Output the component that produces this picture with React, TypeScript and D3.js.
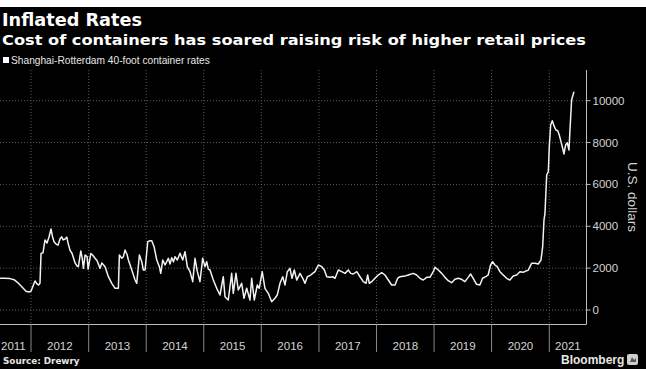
import React from "react";
import * as d3 from "d3";

// ---- data ----
const title = "Inflated Rates";
const subtitle = "Cost of containers has soared raising risk of higher retail prices";
const seriesName = "Shanghai-Rotterdam 40-foot container rates";
const yAxisTitle = "U.S. dollars";
const sourceText = "Source: Drewry";

const yearLabels = [2011, 2012, 2013, 2014, 2015, 2016, 2017, 2018, 2019, 2020, 2021];
const yTickValues = [0, 2000, 4000, 6000, 8000, 10000];

// decimal-year dates of each observation
const obsDates = [
  2011.462, 2011.531, 2011.635, 2011.705, 2011.774, 2011.844, 2011.913, 2011.965,
  2012.0, 2012.035, 2012.069, 2012.104, 2012.13, 2012.156, 2012.174, 2012.208,
  2012.243, 2012.278, 2012.313, 2012.347, 2012.373, 2012.399, 2012.434, 2012.469,
  2012.504, 2012.533, 2012.556, 2012.59, 2012.62, 2012.642, 2012.677, 2012.712,
  2012.764, 2012.799, 2012.821, 2012.863, 2012.886, 2012.908, 2012.938, 2012.972,
  2012.99, 2013.037, 2013.059, 2013.111, 2013.146, 2013.198, 2013.228, 2013.285,
  2013.342, 2013.401, 2013.459, 2013.516, 2013.533, 2013.575, 2013.603, 2013.632,
  2013.667, 2013.69, 2013.749, 2013.806, 2013.835, 2013.881, 2013.922, 2013.95,
  2013.98, 2014.026, 2014.066, 2014.096, 2014.136, 2014.183, 2014.228, 2014.252,
  2014.287, 2014.327, 2014.384, 2014.414, 2014.443, 2014.474, 2014.5, 2014.54,
  2014.587, 2014.634, 2014.674, 2014.714, 2014.761, 2014.808, 2014.848, 2014.888,
  2014.934, 2014.981, 2015.021, 2015.051, 2015.079, 2015.108, 2015.166, 2015.225,
  2015.282, 2015.339, 2015.369, 2015.426, 2015.485, 2015.513, 2015.56, 2015.6,
  2015.659, 2015.699, 2015.746, 2015.803, 2015.833, 2015.878, 2015.93, 2015.964,
  2016.016, 2016.063, 2016.121, 2016.18, 2016.237, 2016.277, 2016.324, 2016.371,
  2016.411, 2016.451, 2016.497, 2016.532, 2016.572, 2016.614, 2016.671, 2016.718,
  2016.758, 2016.798, 2016.845, 2016.891, 2016.931, 2016.989, 2017.048, 2017.093,
  2017.135, 2017.192, 2017.239, 2017.279, 2017.336, 2017.395, 2017.452, 2017.509,
  2017.551, 2017.597, 2017.656, 2017.713, 2017.77, 2017.817, 2017.846, 2017.874,
  2017.916, 2017.973, 2018.031, 2018.09, 2018.147, 2018.204, 2018.263, 2018.321,
  2018.367, 2018.407, 2018.494, 2018.552, 2018.638, 2018.697, 2018.755, 2018.812,
  2018.871, 2018.928, 2018.986, 2019.015, 2019.073, 2019.132, 2019.189, 2019.246,
  2019.305, 2019.362, 2019.42, 2019.479, 2019.536, 2019.593, 2019.635, 2019.68,
  2019.739, 2019.796, 2019.843, 2019.9, 2019.94, 2019.982, 2020.017, 2020.057,
  2020.097, 2020.144, 2020.201, 2020.26, 2020.317, 2020.375, 2020.433, 2020.491,
  2020.548, 2020.607, 2020.635, 2020.665, 2020.694, 2020.752, 2020.809, 2020.856,
  2020.885, 2020.908, 2020.925, 2020.943, 2020.955, 2020.983, 2021.0, 2021.024,
  2021.052, 2021.087, 2021.116, 2021.146, 2021.173, 2021.203, 2021.232, 2021.255,
  2021.284, 2021.312, 2021.342, 2021.359, 2021.388, 2021.428,
];

// rate in U.S. dollars per 40-foot container
const rates = [
  1515, 1520, 1500, 1450, 1300, 1100, 900, 860,
  900, 1150, 1385, 1250, 1195, 1275, 2700, 2730,
  3350, 3200, 3500, 3870, 3500, 3260, 3150, 3100,
  3400, 3500, 3350, 3390, 3480, 3200, 2850, 2700,
  2250, 2100, 2070, 2820, 2500, 1990, 2630, 2550,
  1950, 2700, 2650, 2470, 2350, 1990, 2250, 2070,
  1593, 1275, 1036, 1036, 2628, 2470, 2548, 2867,
  2650, 2389, 1911, 1433, 1275, 2628, 2308, 1911,
  1911, 3264, 3311, 3311, 3025, 2389, 2070, 1752,
  2389, 2150, 2470, 2200, 2500, 2300, 2548, 2389,
  2709, 2389, 2787, 2070, 1831, 1354, 2470, 1831,
  1354, 2470, 2070, 2308, 1950, 1911, 1433, 1036,
  717, 1593, 637, 478, 1752, 796, 1752, 956,
  1275, 559, 1036, 478, 1515, 478, 1195, 1036,
  1831, 1036, 796, 398, 559, 717, 1275, 1593,
  1195, 1831, 1990, 1515, 1910, 1430, 1750, 1515,
  1275, 1593, 1650, 1750, 1830, 2150, 2070, 1910,
  1590, 1562, 1590, 1515, 1910, 1830, 1750, 1910,
  1750, 1720, 1830, 1590, 1354, 1275, 1672, 1275,
  1354, 1515, 1672, 1783, 1672, 1433, 1195, 1195,
  1515, 1593, 1620, 1672, 1750, 1672, 1515, 1433,
  1560, 1560, 1830, 2040, 1910, 1750, 1560, 1401,
  1306, 1465, 1515, 1465, 1354, 1560, 1720, 1515,
  1227, 1195, 1515, 1593, 1672, 2150, 2308, 2150,
  2070, 1830, 1672, 1515, 1433, 1625, 1672, 1831,
  1800, 1879, 1900, 2070, 2230, 2230, 2200, 2389,
  3025, 4300, 4620, 5734, 6450, 6608, 7800, 8840,
  9045, 8758, 8600, 8567, 8362, 8042, 7726, 7454,
  7884, 7994, 7645, 8600, 10034, 10430,
];

const W = 646;
const H = 369;

const toDate = (dy: number) => {
  const yr = Math.floor(dy);
  const s = +new Date(yr, 0, 1);
  const e = +new Date(yr + 1, 0, 1);
  return new Date(s + (dy - yr) * (e - s));
};

export default function App() {
  const plotTop = 70;
  const axisY = 324.5;
  const axisX = 586.5;

  const x = d3
    .scaleTime()
    .domain([new Date(2012, 0, 1), new Date(2021, 0, 1)])
    .range([31, 549.3]);
  const y = d3.scaleLinear().domain([0, 10000]).range([310, 100.7]);

  const data = obsDates.map((d, i) => ({ date: toDate(d), v: rates[i] }));
  const line = d3
    .line<{ date: Date; v: number }>()
    .x((d) => x(d.date))
    .y((d) => y(d.v))
    .curve(d3.curveLinear);

  const tickFont = "'Liberation Sans', Arial, sans-serif";
  const gridColor = "#5c5c5c";
  const labelColor = "#d4d4d4";

  const yearBoundaries = yearLabels.slice(1).map((yr) => new Date(yr, 0, 1));

  return (
    <svg
      width={W}
      height={H}
      style={{ position: "absolute", left: 0, top: 0, display: "block" }}
    >
      <rect x={0} y={0} width={W} height={H} fill="#000" />
      <rect x={0} y={0} width={W} height={7} fill="#fff" />

      {/* titles */}
      <text
        x={2}
        y={26}
        fill="#fff"
        fontFamily="'DejaVu Sans', sans-serif"
        fontWeight="bold"
        fontSize={17.7}
      >
        {title}
      </text>
      <text
        x={2}
        y={45}
        fill="#fff"
        fontFamily="'DejaVu Sans', sans-serif"
        fontWeight="bold"
        fontSize={14.5}
        textLength={584}
        lengthAdjust="spacingAndGlyphs"
      >
        {subtitle}
      </text>

      {/* legend */}
      <rect x={3} y={57} width={6} height={6} fill="#fff" />
      <text x={11} y={63.5} fill="#e6e6e6" fontFamily={tickFont} fontSize={10.2}>
        {seriesName}
      </text>

      {/* horizontal grid */}
      {yTickValues.map((t) => (
        <line
          key={"hg" + t}
          x1={0}
          x2={axisX}
          y1={y(t)}
          y2={y(t)}
          stroke={gridColor}
          strokeWidth={1}
          strokeDasharray="1 2"
        />
      ))}
      {/* vertical grid */}
      {yearBoundaries.map((d) => (
        <line
          key={"vg" + +d}
          x1={x(d)}
          x2={x(d)}
          y1={plotTop}
          y2={axisY}
          stroke={gridColor}
          strokeWidth={1}
          strokeDasharray="1 2"
        />
      ))}

      {/* line */}
      <path
        d={line(data) || ""}
        fill="none"
        stroke="#f2f2f2"
        strokeWidth={1.5}
        strokeLinejoin="round"
      />

      {/* axes */}
      <line x1={0} x2={axisX} y1={axisY} y2={axisY} stroke="#bdbdbd" strokeWidth={1} />
      <line x1={axisX} x2={axisX} y1={plotTop} y2={axisY} stroke="#bdbdbd" strokeWidth={1} />

      {/* x ticks */}
      {yearBoundaries.map((d) => (
        <line
          key={"xt" + +d}
          x1={x(d)}
          x2={x(d)}
          y1={axisY}
          y2={352}
          stroke="#8a8a8a"
          strokeWidth={1}
        />
      ))}
      {yearLabels.map((yr) => {
        const s = x(new Date(yr, 0, 1));
        const e = x(new Date(yr + 1, 0, 1));
        const first = s < 0;
        const lx = first ? 1 : (s + Math.min(e, axisX)) / 2;
        return (
          <text
            key={"xl" + yr}
            x={lx}
            y={350}
            fill={labelColor}
            fontFamily={tickFont}
            fontSize={11.5}
            textAnchor={first ? "start" : "middle"}
          >
            {yr}
          </text>
        );
      })}

      {/* y ticks */}
      {yTickValues.map((t) => (
        <g key={"yt" + t}>
          <line x1={axisX} x2={axisX + 4} y1={y(t)} y2={y(t)} stroke="#bdbdbd" />
          <text
            x={axisX + 6}
            y={y(t)}
            dy="0.35em"
            fill={labelColor}
            fontFamily={tickFont}
            fontSize={11.5}
          >
            {t}
          </text>
        </g>
      ))}

      {/* y axis title */}
      <text
        transform={`translate(${628},${197}) rotate(90)`}
        textAnchor="middle"
        fill={labelColor}
        fontFamily={tickFont}
        fontSize={13.5}
      >
        {yAxisTitle}
      </text>

      {/* footer */}
      <text
        x={3}
        y={364}
        fill="#e6e6e6"
        fontFamily="'DejaVu Sans', sans-serif"
        fontWeight="bold"
        fontSize={8.8}
      >
        {sourceText}
      </text>
      <text
        x={561}
        y={363.5}
        fill="#e6e6e6"
        fontFamily={tickFont}
        fontWeight="bold"
        fontSize={12}
      >
        Bloomberg
      </text>
      <rect x={627} y={354} width={11} height={11} rx={2} fill="#cfcfcf" />
      <path d="M630 362 L632 357 L634 360 L636 358 L636 362 Z" fill="#555" />
    </svg>
  );
}
